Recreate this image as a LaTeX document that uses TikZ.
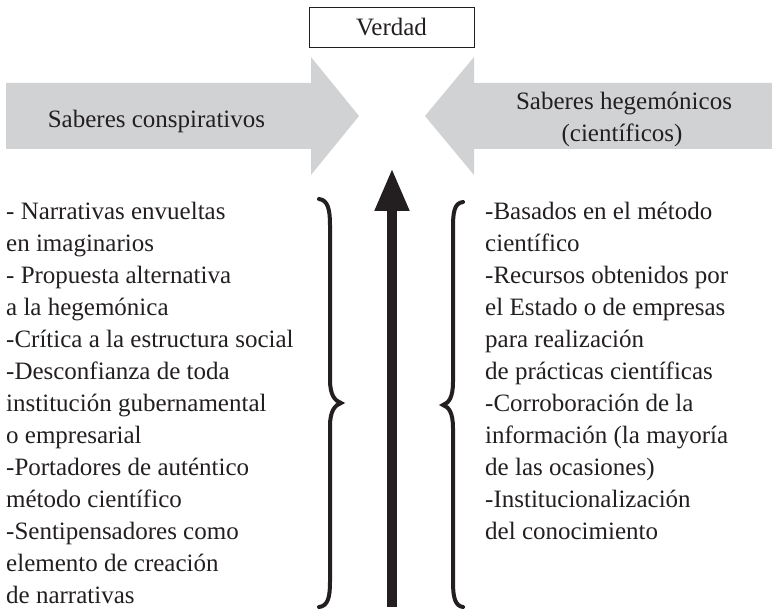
\documentclass[tikz,border=0pt]{standalone}
\usepackage{fontspec}
\setmainfont{Liberation Serif}
\usetikzlibrary{arrows.meta}
\definecolor{arrgray}{HTML}{D1D2D4}
\definecolor{ink}{HTML}{231F20}
\begin{document}
\begin{tikzpicture}[x=1pt,y=-1pt,
  bigarrow/.style={fill=arrgray, draw=none},
  txt/.style={font=\fontsize{25}{32}\selectfont, text=ink, inner sep=0pt},
  bracepath/.style={draw=ink, line width=4pt, line cap=round}
]
\useasboundingbox (0,0) rectangle (772,609);

% big grey arrows
\path[bigarrow] (6,83) -- (311,83) -- (311,57) -- (359,116) -- (311,175) -- (311,149) -- (6,149) -- cycle;
\path[bigarrow] (772,83) -- (474,83) -- (474,57) -- (425,116) -- (474,175) -- (474,149) -- (772,149) -- cycle;

% Verdad box
\node[draw=ink, line width=0.8pt, minimum width=165pt, minimum height=40pt, txt] (verdad) at (391.5,27) {Verdad};

% arrow labels
\node[txt, anchor=base] (consp) at (156.5,128) {Saberes conspirativos};
\node[txt, anchor=base] (hegeA) at (624,110) {Saberes hegemónicos};
\node[txt, anchor=base] (hegeB) at (622,142) {(científicos)};

% vertical arrow
\coordinate (vbot) at (392,607);
\coordinate (vtop) at (392,168);
\draw[ink, line width=10.5pt, -{Triangle[width=32pt,length=43pt]}] (vbot) -- (vtop);

% braces
\draw[bracepath] (319,199) .. controls (328,200) and (330,210) .. (330,225) -- (330,380)
  .. controls (330,395) and (335,401) .. (341,403)
  .. controls (335,405) and (330,411) .. (330,426) -- (330,582)
  .. controls (330,597) and (328,606) .. (319,607);
\draw[bracepath] (463,202) .. controls (454,203) and (453,213) .. (453,228) -- (453,382)
  .. controls (453,397) and (449,403) .. (443,405)
  .. controls (449,407) and (453,413) .. (453,428) -- (453,582)
  .. controls (453,597) and (455,606) .. (463,607);

% text columns
\node[txt, anchor=north west, align=left] (ltext) at (6,202) {- Narrativas envueltas\\
en imaginarios\\
- Propuesta alternativa\\
a la hegemónica\\
-Crítica a la estructura social\\
-Desconfianza de toda\\
institución gubernamental\\
o empresarial\\
-Portadores de auténtico\\
método científico\\
-Sentipensadores como\\
elemento de creación\\
de narrativas};
\node[txt, anchor=north west, align=left] (rtext) at (485,202) {-Basados en el método\\
científico\\
-Recursos obtenidos por\\
el Estado o de empresas\\
para realización\\
de prácticas científicas\\
-Corroboración de la\\
información (la mayoría\\
de las ocasiones)\\
-Institucionalización\\
del conocimiento};
\end{tikzpicture}
\end{document}
